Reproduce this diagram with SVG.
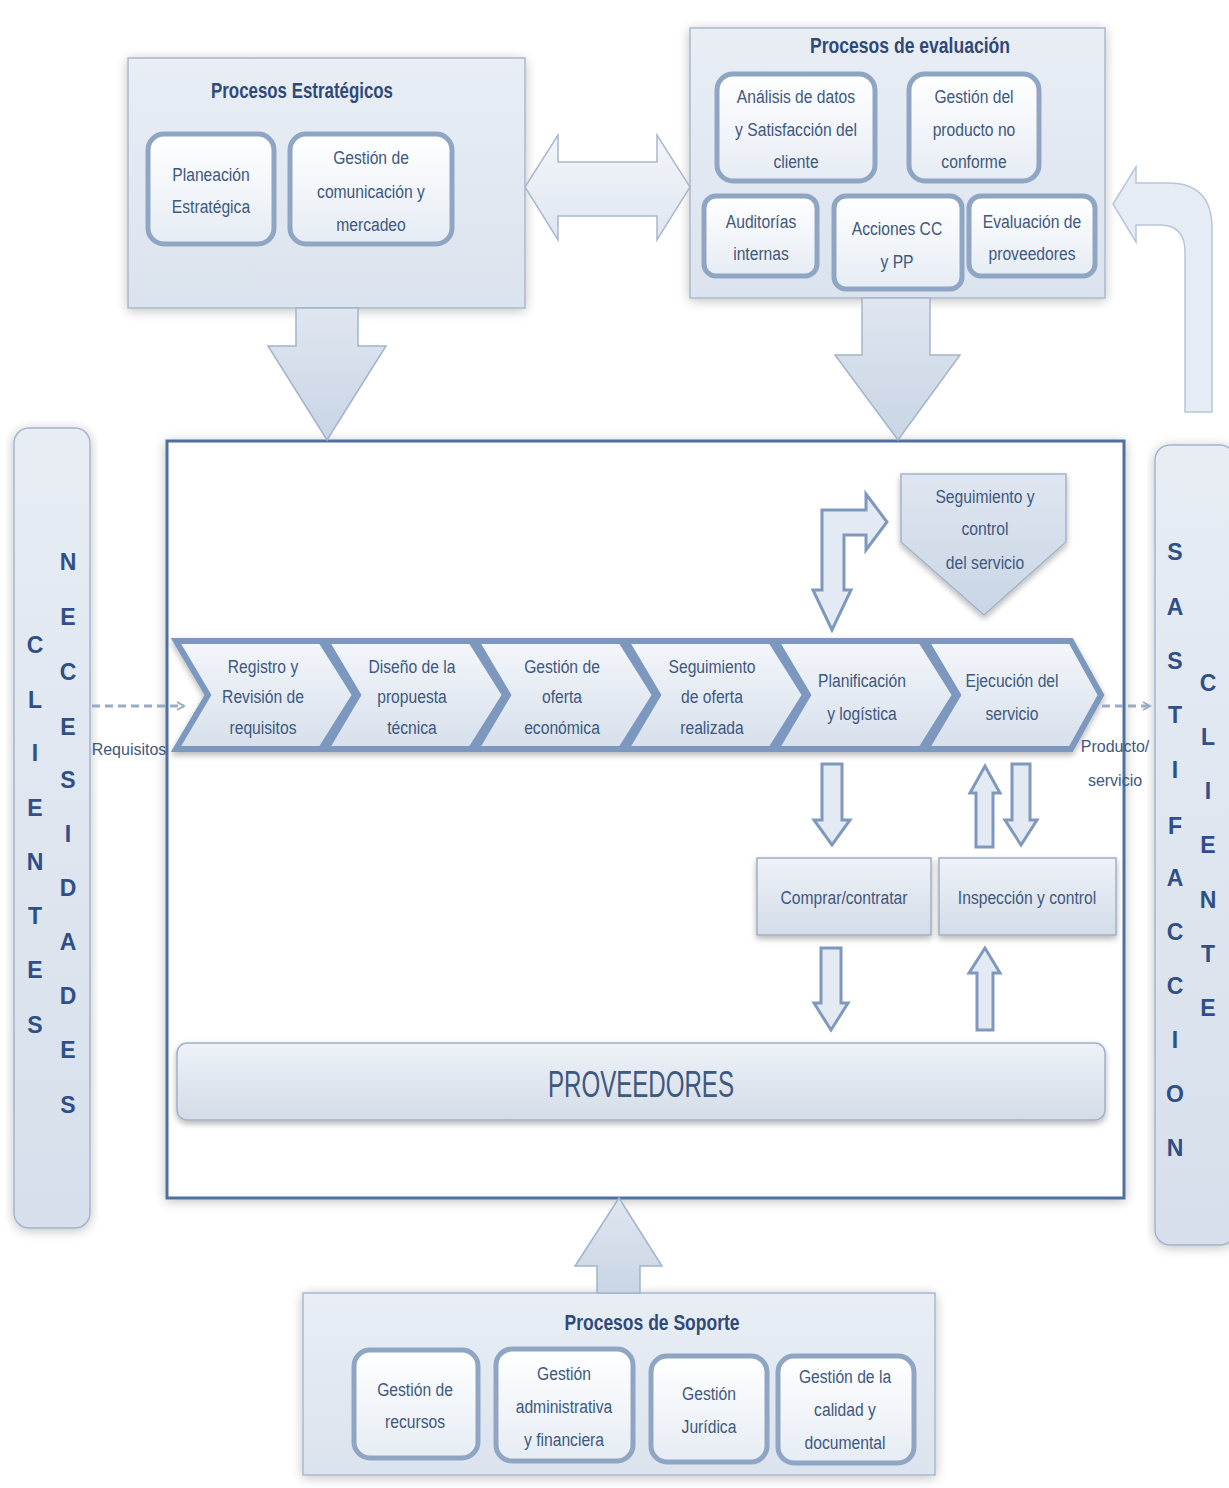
<svg xmlns="http://www.w3.org/2000/svg" width="1229" height="1488" viewBox="0 0 1229 1488">
<defs>
<linearGradient id="gBig" x1="0" y1="0" x2="0" y2="1"><stop offset="0" stop-color="#e9eef5"/><stop offset="1" stop-color="#dbe3ee"/></linearGradient>
<linearGradient id="gInner" x1="0" y1="0" x2="0" y2="1"><stop offset="0" stop-color="#ffffff"/><stop offset="1" stop-color="#e6ecf4"/></linearGradient>
<linearGradient id="gArrow" x1="0" y1="0" x2="0" y2="1"><stop offset="0" stop-color="#dfe6f0"/><stop offset="1" stop-color="#c9d5e5"/></linearGradient>
<linearGradient id="gLight" x1="0" y1="0" x2="0" y2="1"><stop offset="0" stop-color="#f3f6fa"/><stop offset="1" stop-color="#dfe6f0"/></linearGradient>
<linearGradient id="gChev" x1="0" y1="0" x2="0" y2="1"><stop offset="0" stop-color="#f4f7fb"/><stop offset="1" stop-color="#d6dfeb"/></linearGradient>
<linearGradient id="gCol" x1="0" y1="0" x2="0" y2="1"><stop offset="0" stop-color="#e8edf4"/><stop offset="1" stop-color="#d6dfeb"/></linearGradient>
<linearGradient id="gBar" x1="0" y1="0" x2="0" y2="1"><stop offset="0" stop-color="#eef2f7"/><stop offset="1" stop-color="#d3dce8"/></linearGradient>
<filter id="glow" x="-10%" y="-10%" width="120%" height="120%"><feGaussianBlur in="SourceAlpha" stdDeviation="6"/><feOffset dy="2"/><feComponentTransfer><feFuncA type="linear" slope="0.25"/></feComponentTransfer><feMerge><feMergeNode/><feMergeNode in="SourceGraphic"/></feMerge></filter>
<filter id="sh" x="-10%" y="-10%" width="120%" height="130%"><feGaussianBlur in="SourceAlpha" stdDeviation="3"/><feOffset dy="3"/><feComponentTransfer><feFuncA type="linear" slope="0.3"/></feComponentTransfer><feMerge><feMergeNode/><feMergeNode in="SourceGraphic"/></feMerge></filter>
<marker id="open" viewBox="0 0 10 10" refX="8" refY="5" markerWidth="10" markerHeight="12" orient="auto" markerUnits="userSpaceOnUse"><path d="M1 1 L8 5 L1 9" fill="none" stroke="#9aabc4" stroke-width="2"/></marker>
</defs>
<style>
text{font-family:"Liberation Sans",Arial,sans-serif;fill:#3e5880;text-anchor:middle}
.t{font-size:18px}
.ttl{font-size:22px;font-weight:bold;fill:#2f4a78}
.let{font-size:23px;font-weight:bold;fill:#2f4f86}
.sm{font-size:16px}
.big{fill:url(#gBig);stroke:#a9b8cd;stroke-width:1.5}
.inner{fill:url(#gInner);stroke:#8fa5c4;stroke-width:5}
.arr{fill:url(#gArrow);stroke:#a3b4ca;stroke-width:1.5}
.arrL{fill:#e4eaf3;stroke:#7f98bd;stroke-width:3}
.chev{fill:url(#gChev);stroke:#7d98bf;stroke-width:6;stroke-linejoin:miter}
.col{fill:url(#gCol);stroke:#a3b5cc;stroke-width:1.5}
.box{fill:url(#gBar);stroke:#9fb0c7;stroke-width:1.5}
.dash{stroke:#9aabc4;stroke-width:3;stroke-dasharray:8 5;fill:none}
</style>
<rect width="1229" height="1488" fill="#ffffff"/>

<g id="frame"><rect x="167" y="441" width="957" height="757" fill="#ffffff" stroke="#4f6f9e" stroke-width="3" filter="url(#glow)"/></g>

<g id="clientes-necesidades">
<rect class="col" x="14" y="428" width="76" height="800" rx="15" filter="url(#glow)"/>
<text class="let" x="35" y="653">C</text><text class="let" x="35" y="708">L</text><text class="let" x="35" y="761">I</text><text class="let" x="35" y="816">E</text><text class="let" x="35" y="870">N</text><text class="let" x="35" y="924">T</text><text class="let" x="35" y="978">E</text><text class="let" x="35" y="1033">S</text>
<text class="let" x="68" y="570">N</text><text class="let" x="68" y="625">E</text><text class="let" x="68" y="680">C</text><text class="let" x="68" y="735">E</text><text class="let" x="68" y="788">S</text><text class="let" x="68" y="842">I</text><text class="let" x="68" y="896">D</text><text class="let" x="68" y="950">A</text><text class="let" x="68" y="1004">D</text><text class="let" x="68" y="1058">E</text><text class="let" x="68" y="1113">S</text>
</g>

<g id="satisfaccion-cliente">
<rect class="col" x="1155" y="445" width="80" height="800" rx="15" filter="url(#glow)"/>
<text class="let" x="1175" y="560">S</text><text class="let" x="1175" y="615">A</text><text class="let" x="1175" y="669">S</text><text class="let" x="1175" y="723">T</text><text class="let" x="1175" y="778">I</text><text class="let" x="1175" y="834">F</text><text class="let" x="1175" y="886">A</text><text class="let" x="1175" y="940">C</text><text class="let" x="1175" y="994">C</text><text class="let" x="1175" y="1048">I</text><text class="let" x="1175" y="1102">O</text><text class="let" x="1175" y="1156">N</text>
<text class="let" x="1208" y="691">C</text><text class="let" x="1208" y="745">L</text><text class="let" x="1208" y="799">I</text><text class="let" x="1208" y="853">E</text><text class="let" x="1208" y="908">N</text><text class="let" x="1208" y="962">T</text><text class="let" x="1208" y="1016">E</text>
</g>

<g id="estrategicos">
<rect class="big" x="128" y="58" width="397" height="250" filter="url(#glow)"/>
<text class="ttl" x="302" y="98" textLength="182" lengthAdjust="spacingAndGlyphs">Procesos Estratégicos</text>
<rect class="inner" x="148" y="134" width="126" height="110" rx="16"/>
<g transform="matrix(0.87 0 0 1 27.43 0)"><text class="t" x="211" y="181">Planeación</text><text class="t" x="211" y="213">Estratégica</text></g>
<rect class="inner" x="290" y="134" width="162" height="110" rx="16"/>
<g transform="matrix(0.87 0 0 1 48.23 0)"><text class="t" x="371" y="164">Gestión de</text><text class="t" x="371" y="198">comunicación y</text><text class="t" x="371" y="231">mercadeo</text></g>
</g>

<g id="evaluacion">
<rect class="big" x="690" y="28" width="415" height="270" filter="url(#glow)"/>
<text class="ttl" x="910" y="53" textLength="200" lengthAdjust="spacingAndGlyphs">Procesos de evaluación</text>
<rect class="inner" x="717" y="74" width="158" height="107" rx="16"/>
<g transform="matrix(0.87 0 0 1 103.48 0)"><text class="t" x="796" y="103">Análisis de datos</text><text class="t" x="796" y="136">y Satisfacción del</text><text class="t" x="796" y="168">cliente</text></g>
<rect class="inner" x="909" y="74" width="130" height="107" rx="16"/>
<g transform="matrix(0.87 0 0 1 126.62 0)"><text class="t" x="974" y="103">Gestión del</text><text class="t" x="974" y="136">producto no</text><text class="t" x="974" y="168">conforme</text></g>
<rect class="inner" x="704" y="196" width="113" height="80" rx="12"/>
<g transform="matrix(0.87 0 0 1 98.93 0)"><text class="t" x="761" y="228">Auditorías</text><text class="t" x="761" y="260">internas</text></g>
<rect class="inner" x="834" y="196" width="128" height="93" rx="12"/>
<g transform="matrix(0.87 0 0 1 116.61 0)"><text class="t" x="897" y="235">Acciones CC</text><text class="t" x="897" y="268">y PP</text></g>
<rect class="inner" x="969" y="196" width="126" height="80" rx="12"/>
<g transform="matrix(0.87 0 0 1 134.16 0)"><text class="t" x="1032" y="228">Evaluación de</text><text class="t" x="1032" y="260">proveedores</text></g>
</g>

<g id="soporte">
<rect class="big" x="303" y="1293" width="632" height="182" filter="url(#glow)"/>
<text class="ttl" x="652" y="1330" textLength="175" lengthAdjust="spacingAndGlyphs">Procesos de Soporte</text>
<rect class="inner" x="354" y="1350" width="124" height="108" rx="16"/>
<g transform="matrix(0.87 0 0 1 53.95 0)"><text class="t" x="415" y="1396">Gestión de</text><text class="t" x="415" y="1428">recursos</text></g>
<rect class="inner" x="496" y="1349" width="137" height="112" rx="16"/>
<g transform="matrix(0.87 0 0 1 73.32 0)"><text class="t" x="564" y="1380">Gestión</text><text class="t" x="564" y="1413">administrativa</text><text class="t" x="564" y="1446">y financiera</text></g>
<rect class="inner" x="651" y="1356" width="116" height="106" rx="16"/>
<g transform="matrix(0.87 0 0 1 92.17 0)"><text class="t" x="709" y="1400">Gestión</text><text class="t" x="709" y="1433">Jurídica</text></g>
<rect class="inner" x="778" y="1356" width="136" height="107" rx="16"/>
<g transform="matrix(0.87 0 0 1 109.85 0)"><text class="t" x="845" y="1383">Gestión de la</text><text class="t" x="845" y="1416">calidad y</text><text class="t" x="845" y="1449">documental</text></g>
</g>

<g id="cadena" filter="url(#sh)">
<polygon class="chev" points="176,641 321,641 355,695 321,749 176,749 208,695"/>
<polygon class="chev" points="326,641 471,641 505,695 471,749 326,749 358,695"/>
<polygon class="chev" points="476,641 621,641 655,695 621,749 476,749 508,695"/>
<polygon class="chev" points="626,641 771,641 805,695 771,749 626,749 658,695"/>
<polygon class="chev" points="776,641 921,641 955,695 921,749 776,749 808,695"/>
<polygon class="chev" points="926,641 1071,641 1101,695 1071,749 926,749 958,695"/>
</g>
<g id="chevron-text">
<g transform="matrix(0.87 0 0 1 34.19 0)"><text class="t" x="263" y="673">Registro y</text><text class="t" x="263" y="703">Revisión de</text><text class="t" x="263" y="734">requisitos</text></g>
<g transform="matrix(0.87 0 0 1 53.56 0)"><text class="t" x="412" y="673">Diseño de la</text><text class="t" x="412" y="703">propuesta</text><text class="t" x="412" y="734">técnica</text></g>
<g transform="matrix(0.87 0 0 1 73.06 0)"><text class="t" x="562" y="673">Gestión de</text><text class="t" x="562" y="703">oferta</text><text class="t" x="562" y="734">económica</text></g>
<g transform="matrix(0.87 0 0 1 92.56 0)"><text class="t" x="712" y="673">Seguimiento</text><text class="t" x="712" y="703">de oferta</text><text class="t" x="712" y="734">realizada</text></g>
<g transform="matrix(0.87 0 0 1 112.06 0)"><text class="t" x="862" y="687">Planificación</text><text class="t" x="862" y="720">y logística</text></g>
<g transform="matrix(0.87 0 0 1 131.56 0)"><text class="t" x="1012" y="687">Ejecución del</text><text class="t" x="1012" y="720">servicio</text></g>
</g>

<g id="seguimiento-control">
<polygon points="901,474 1066,474 1066,542 984,615 901,542" fill="url(#gArrow)" stroke="#a3b4ca" stroke-width="1.5" filter="url(#sh)"/>
<g transform="matrix(0.87 0 0 1 128.05 0)"><text class="t" x="985" y="503">Seguimiento y</text><text class="t" x="985" y="535">control</text><text class="t" x="985" y="569">del servicio</text></g>
</g>

<g id="comprar">
<rect class="box" x="757" y="858" width="174" height="77" filter="url(#sh)"/>
<g transform="matrix(0.87 0 0 1 109.72 0)"><text class="t" x="844" y="904">Comprar/contratar</text></g>
</g>
<g id="inspeccion">
<rect class="box" x="939" y="858" width="177" height="77" filter="url(#sh)"/>
<g transform="matrix(0.87 0 0 1 133.51 0)"><text class="t" x="1027" y="904">Inspección y control</text></g>
</g>

<g id="proveedores">
<rect class="box" x="177" y="1043" width="928" height="77" rx="10" filter="url(#sh)"/>
<text x="641" y="1097" font-size="36" textLength="186" lengthAdjust="spacingAndGlyphs" fill="#4a5f84">PROVEEDORES</text>
</g>

<g id="connectors">
<path class="arr" d="M296 308 L358 308 L358 346 L386 346 L327 440 L268 346 L296 346 Z"/>
<path class="arr" d="M862 298 L930 298 L930 355 L960 355 L898 440 L835 355 L862 355 Z"/>
<path d="M525 187 L558 135 L558 162 L657 162 L657 135 L690 187 L657 240 L657 216 L558 216 L558 240 Z" fill="url(#gLight)" stroke="#a9b8cc" stroke-width="1.5"/>
<path d="M1185 412 L1185 252 Q1185 225 1160 225 L1136 225 L1136 242 L1113 204 L1136 167 L1136 183 L1168 183 Q1212 183 1212 228 L1212 412 Z" fill="#e6ecf4" stroke="#b8c6d8" stroke-width="1.5"/>
<path class="arr" d="M619 1198 L662 1266 L640 1266 L640 1293 L597 1293 L597 1266 L575 1266 Z"/>
<path class="arrL" d="M832 630 L813 590 L822 590 L822 510 L866 510 L866 494 L887 522 L866 550 L866 535 L844 535 L844 590 L851 590 Z"/>
<path class="arrL" d="M822 764 L842 764 L842 820 L850 820 L832 845 L814 820 L822 820 Z"/>
<path class="arrL" d="M1012 764 L1030 764 L1030 820 L1037 820 L1021 845 L1005 820 L1012 820 Z"/>
<path class="arrL" d="M976 847 L993 847 L993 793 L1000 793 L985 766 L970 793 L976 793 Z"/>
<path class="arrL" d="M821 948 L841 948 L841 1003 L848 1003 L831 1030 L814 1003 L821 1003 Z"/>
<path class="arrL" d="M977 1030 L993 1030 L993 973 L1000 973 L985 948 L969 973 L977 973 Z"/>
<line class="dash" x1="92" y1="706" x2="184" y2="706" marker-end="url(#open)"/>
<line class="dash" x1="1102" y1="706" x2="1150" y2="706" marker-end="url(#open)"/>
<text class="sm" x="129" y="755">Requisitos</text>
<text class="sm" x="1115" y="752">Producto/</text>
<text class="sm" x="1115" y="786">servicio</text>
</g>
</svg>
